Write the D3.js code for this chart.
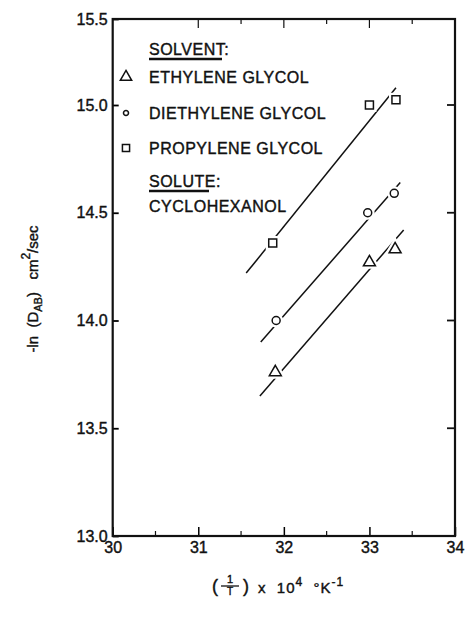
<!DOCTYPE html>
<script src="https://d3js.org/d3.v7.min.js"></script>
<style>
  body { margin: 0; background: #fff; }
  text { font-family: "Liberation Sans", Arial, sans-serif; fill: #111; stroke: #111; stroke-width: 0.4px; white-space: pre; }
</style>
<svg></svg>

<script>
    // values
    const xTicks = [30, 31, 32, 33, 34];
    const yTicks = [13.0, 13.5, 14.0, 14.5, 15.0, 15.5];

    const solvents = ["ETHYLENE GLYCOL", "DIETHYLENE GLYCOL", "PROPYLENE GLYCOL"];
    const symbols = ["triangle", "circle", "square"];
    const solute = "CYCLOHEXANOL";

    const ethyleneX = [31.90, 33.00, 33.30];
    const ethyleneY = [13.76, 14.27, 14.33];
    const diethyleneX = [31.91, 32.98, 33.29];
    const diethyleneY = [14.00, 14.50, 14.59];
    const propyleneX = [31.87, 33.00, 33.31];
    const propyleneY = [14.36, 15.00, 15.03];

    // fitted straight lines, start and end
    const ethyleneFit = [[31.72, 13.65], [33.40, 14.42]];
    const diethyleneFit = [[31.73, 13.90], [33.36, 14.64]];
    const propyleneFit = [[31.56, 14.22], [33.31, 15.10]];

    const series = [
        {xs: ethyleneX, ys: ethyleneY, fit: ethyleneFit, sym: symbols[0]},
        {xs: diethyleneX, ys: diethyleneY, fit: diethyleneFit, sym: symbols[1]},
        {xs: propyleneX, ys: propyleneY, fit: propyleneFit, sym: symbols[2]}
    ];

    const W = 467, H = 618;
    const pLeft = 112.7, pRight = 455, pTop = 19, pBottom = 536;

    const svg = d3.select("svg")
        .attr("width", W)
        .attr("height", H);

    const x = d3.scaleLinear()
        .domain([30, 34])
        .range([pLeft, pRight]);

    // the scan is squeezed above 15.0, so the scale follows it
    const y = d3.scaleLinear()
        .domain([13.0, 15.0, 15.5])
        .range([pBottom, 105, pTop]);

    // bottom axis
    const gx = svg.append("g")
        .attr("transform", `translate(0, ${pBottom})`)
        .call(d3.axisBottom(x).tickValues(xTicks).tickSize(-9).tickSizeOuter(0).tickPadding(6).tickFormat(d3.format("d")));
    gx.select(".domain").remove();
    gx.selectAll("text").style("font-size", "16px").attr("fill", "#111");
    gx.selectAll("line").attr("stroke-width", 1.5);

    const minorX = d3.range(30.5, 34, 1);
    svg.append("g").selectAll("line")
        .data(minorX)
        .join("line")
        .attr("x1", d => x(d)).attr("x2", d => x(d))
        .attr("y1", pBottom).attr("y2", pBottom - 5)
        .attr("stroke", "#111").attr("stroke-width", 1.2);

    // top ticks
    svg.append("g").selectAll("line")
        .data(d3.range(31, 34, 0.5))
        .join("line")
        .attr("x1", d => x(d)).attr("x2", d => x(d))
        .attr("y1", pTop).attr("y2", d => pTop + (d % 1 === 0 ? 9 : 5))
        .attr("stroke", "#111").attr("stroke-width", 1.2);

    // left axis
    const gy = svg.append("g")
        .attr("transform", `translate(${pLeft}, 0)`)
        .call(d3.axisLeft(y).tickValues(yTicks).tickSize(-6).tickSizeOuter(0).tickPadding(5).tickFormat(d3.format(".1f")));
    gy.select(".domain").remove();
    gy.selectAll("text").style("font-size", "16px").attr("fill", "#111");
    gy.selectAll("line").attr("stroke-width", 1.8);

    // right ticks
    svg.append("g").selectAll("line")
        .data(yTicks.slice(1, -1))
        .join("line")
        .attr("x1", pRight).attr("x2", pRight - 8)
        .attr("y1", d => y(d)).attr("y2", d => y(d))
        .attr("stroke", "#111").attr("stroke-width", 1.8);

    // frame
    svg.append("rect")
        .attr("x", pLeft).attr("y", pTop)
        .attr("width", pRight - pLeft).attr("height", pBottom - pTop)
        .attr("fill", "none").attr("stroke", "#111").attr("stroke-width", 2.2);

    // fitted lines
    const line = d3.line().x(d => x(d[0])).y(d => y(d[1]));
    svg.append("g").selectAll("path")
        .data(series)
        .join("path")
        .attr("d", d => line(d.fit))
        .attr("fill", "none")
        .attr("stroke", "#111")
        .attr("stroke-width", 1.5);

    const symType = {triangle: d3.symbolTriangle, circle: d3.symbolCircle, square: d3.symbolSquare};
    const symSize = {triangle: 62, circle: 50, square: 64};
    const markerShape = (s, k) => d3.symbol().type(symType[s]).size(symSize[s] * k)();

    // markers, with a white halo so the line breaks around them
    series.forEach(s => {
        const pts = s.xs.map((v, i) => [v, s.ys[i]]);
        const g = svg.append("g");
        g.selectAll("path.halo")
            .data(pts)
            .join("path")
            .attr("class", "halo")
            .attr("transform", d => `translate(${x(d[0])}, ${y(d[1])})`)
            .attr("d", markerShape(s.sym, 1))
            .attr("fill", "#fff").attr("stroke", "#fff").attr("stroke-width", 6);
        g.selectAll("path.mark")
            .data(pts)
            .join("path")
            .attr("class", "mark")
            .attr("transform", d => `translate(${x(d[0])}, ${y(d[1])})`)
            .attr("d", markerShape(s.sym, 1))
            .attr("fill", "#fff").attr("stroke", "#111").attr("stroke-width", 1.5);
    });

    // legend
    const lg = svg.append("g").style("font-size", "16px").style("letter-spacing", "0.5px");
    lg.append("text").attr("x", 149).attr("y", 55).text("SOLVENT:");
    lg.append("line").attr("x1", 149).attr("x2", 222).attr("y1", 59).attr("y2", 59)
        .attr("stroke", "#111").attr("stroke-width", 2.4);

    const rowY = [83, 119, 154];
    const legSize = {triangle: 0.9, circle: 0.4, square: 0.8};
    solvents.forEach((name, i) => {
        lg.append("path")
            .attr("transform", `translate(126, ${rowY[i] - 6})`)
            .attr("d", markerShape(symbols[i], legSize[symbols[i]]))
            .attr("fill", "#fff").attr("stroke", "#111").attr("stroke-width", 1.5);
        lg.append("text").attr("x", 149).attr("y", rowY[i]).text(name);
    });

    lg.append("text").attr("x", 149).attr("y", 187).text("SOLUTE:");
    lg.append("line").attr("x1", 149).attr("x2", 209).attr("y1", 191).attr("y2", 191)
        .attr("stroke", "#111").attr("stroke-width", 2.4);
    lg.append("text").attr("x", 149).attr("y", 212).text(solute);

    // x axis title: (1/T) x 10^4 °K^-1
    const xt = svg.append("g").style("font-size", "15px");
    xt.append("text").attr("x", 212).attr("y", 592).style("font-size", "18px").text("(");
    xt.append("text").attr("x", 230).attr("y", 583).attr("text-anchor", "middle").style("font-size", "11px").text("1");
    xt.append("line").attr("x1", 221).attr("x2", 239).attr("y1", 586).attr("y2", 586)
        .attr("stroke", "#111").attr("stroke-width", 1.3);
    xt.append("text").attr("x", 230).attr("y", 595).attr("text-anchor", "middle").style("font-size", "10px").text("T");
    xt.append("text").attr("x", 243).attr("y", 592).style("font-size", "18px").text(")");
    const xl = xt.append("text").attr("x", 258).attr("y", 593).style("letter-spacing", "1px");
    xl.append("tspan").text("x  10");
    xl.append("tspan").attr("dy", -7).style("font-size", "12px").text("4");
    xl.append("tspan").attr("dy", 7).text("  \u00b0K");
    xl.append("tspan").attr("dy", -7).style("font-size", "12px").text("-1");

    // y axis title
    const yl = svg.append("text")
        .attr("transform", "translate(38, 289) rotate(-90)")
        .attr("text-anchor", "middle")
        .style("font-size", "15px");
    yl.append("tspan").text("-ln  (D");
    yl.append("tspan").attr("dy", 4).style("font-size", "11px").text("AB");
    yl.append("tspan").attr("dy", -4).text(")   cm");
    yl.append("tspan").attr("dy", -8).style("font-size", "12px").text("2");
    yl.append("tspan").attr("dy", 8).text("/sec");
</script>
